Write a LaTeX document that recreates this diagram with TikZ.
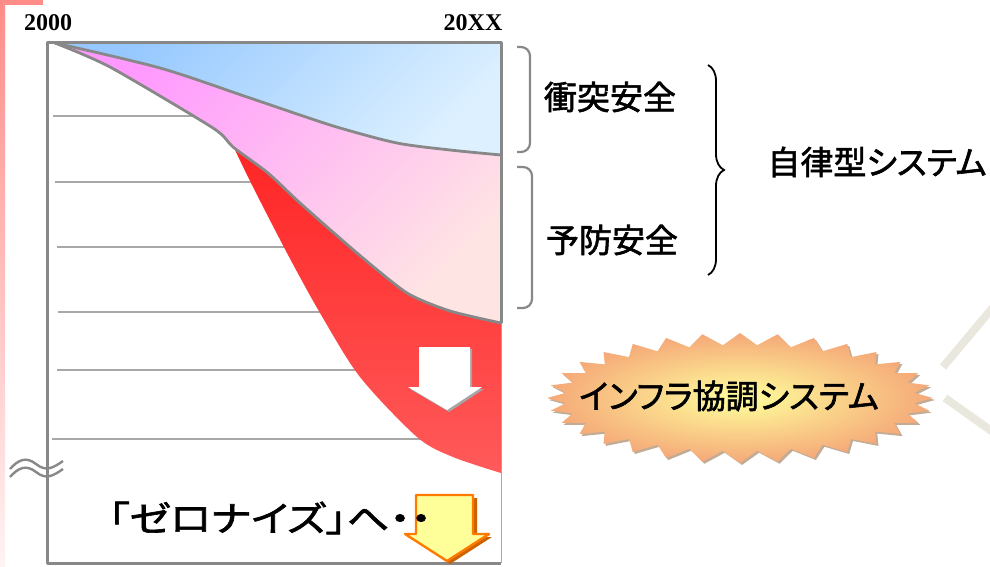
\documentclass[tikz,border=0pt]{standalone}
\usepackage{fontspec}
\setmainfont{Liberation Serif}
\newfontfamily\jpfont[RawFeature=+palt, FakeBold=1.8]{Noto Sans CJK JP}
\newfontfamily\jpwide[RawFeature=+palt, FakeBold=1.8, FakeStretch=1.2]{Noto Sans CJK JP}
\usetikzlibrary{decorations.pathreplacing}

\definecolor{framegray}{HTML}{888888}
\definecolor{gridgray}{HTML}{A8A8A8}
\definecolor{bluetop}{HTML}{96C8FF}
\definecolor{bluebot}{HTML}{DCF0FF}
\definecolor{pinktop}{HTML}{FF99FF}
\definecolor{pinkbot}{HTML}{FFE4E4}
\definecolor{redtop}{HTML}{FF1414}
\definecolor{redbot}{HTML}{FF5A5A}
\definecolor{striptop}{HTML}{FF8C88}
\definecolor{stripbot}{HTML}{FFF4F4}
\definecolor{burstin}{HTML}{FFFF9C}
\definecolor{burstout}{HTML}{F5A878}
\definecolor{decobeige}{HTML}{EAE8DE}
\definecolor{arrowyellow}{HTML}{FFFF99}
\definecolor{arroworange}{HTML}{FF7A00}

\begin{document}
\begin{tikzpicture}[x=1pt, y=-1pt,
    jplabel/.style={font=\jpfont\fontsize{33}{33}\selectfont, inner sep=0pt},
    yearlabel/.style={font=\bfseries\fontsize{24}{24}\selectfont, inner sep=0pt},
    gridline/.style={draw=gridgray, line width=1.2pt},
    edgeline/.style={draw=framegray, line width=2.8pt, line join=round, line cap=round},
    bracket/.style={draw=framegray, line width=2.2pt, rounded corners=9pt},
    breakmark/.style={draw=framegray, line width=2.4pt}
]
    \useasboundingbox (0,0) rectangle (990,567);

    % Side strip
    \shade[top color=striptop, bottom color=stripbot] (0,0) rectangle (5,567);
    \fill[striptop] (0,0) rectangle (43,5);

    % Decoration
    \draw[decobeige, line width=8pt] (943,367) -- (1000,299);
    \draw[decobeige, line width=8pt] (945,398) -- (1000,437);

    % Grid
    \foreach \y/\x in {116/53, 182/55, 247/57, 312/58, 370/57, 439/52}
        \draw[gridline] (\x,\y) -- (501,\y);
    \draw[gridgray, line width=1pt] (501,323) -- (501,563);

    % Areas
    \shade[top color=redtop, bottom color=redbot]
        plot[smooth, tension=0.5] coordinates {(235,150) (253,187) (287,253) (320,313) (360,377) (417,437) (453,457) (501,473)}
        -- (501,43) -- (235,43) -- cycle;
    \shade[top color=pinktop, bottom color=pinkbot, shading angle=45]
        plot[smooth, tension=0.4] coordinates {(55,43) (110,67) (213,128) (233,147) (268,173) (300,203) (357,253) (407,293) (450,311) (501,323)}
        -- (501,43) -- cycle;
    \shade[top color=bluetop, bottom color=bluebot, shading angle=45]
        plot[smooth, tension=0.5] coordinates {(55,43) (160,68) (247,97) (300,115) (340,128) (397,143) (450,150) (501,155)}
        -- (501,43) -- cycle;
    \draw[edgeline] plot[smooth, tension=0.4] coordinates {(55,43) (110,67) (213,128) (233,147) (268,173) (300,203) (357,253) (407,293) (450,311) (501,323)};
    \draw[edgeline] plot[smooth, tension=0.5] coordinates {(55,43) (160,68) (247,97) (300,115) (340,128) (397,143) (450,150) (501,155)};

    % Frame
    \draw[framegray, line width=3pt, line join=round] (501,323) -- (501,43) -- (47,43) -- (47,563) -- (501,563);
    \draw[breakmark] (10,469) .. controls (18,460) and (26,456) .. (36,464) .. controls (46,472) and (53,468) .. (63,461);
    \draw[breakmark] (10,477) .. controls (18,468) and (26,464) .. (36,472) .. controls (46,480) and (53,476) .. (63,469);

    % Arrows
    \fill[gray!70] (421,349) -- (472,349) -- (472,389) -- (484,389) -- (449,412) -- (410,389) -- (421,389) -- cycle;
    \fill[white] (419,347) -- (470,347) -- (470,387) -- (482,387) -- (447,410) -- (408,387) -- (419,387) -- cycle;
    \fill[arroworange!80!black] (420,498) -- (477,498) -- (477,537) -- (492,537) -- (450,564) -- (409,537) -- (420,537) -- cycle;
    \filldraw[fill=arrowyellow, draw=arroworange, line width=2.4pt, line join=round]
        (416,495) -- (473,495) -- (473,534) -- (489,534) -- (447,561) -- (405,534) -- (416,534) -- cycle;

    % Brackets
    \draw[bracket] (517,47) -- (530,47) -- (530,152) -- (517,152);
    \draw[bracket] (517,167) -- (532,167) -- (532,308) -- (517,308);
    \draw[black, line width=1.8pt, decorate, decoration={brace, amplitude=16pt}] (708,65) -- (708,275);

    % Starburst
    \fill[brown!70!black, opacity=0.5] plot[variable=\t, samples at={0,...,63}]
        ({742+(193-18*mod(\t,2))*cos(\t*5.625)}, {400+(65-12*mod(\t,2))*sin(\t*5.625)}) -- cycle;
    \shade[inner color=burstin, outer color=burstout] plot[variable=\t, samples at={0,...,63}]
        ({740+(193-18*mod(\t,2))*cos(\t*5.625)}, {398+(65-12*mod(\t,2))*sin(\t*5.625)}) -- cycle;

    % Nodes
    \node[yearlabel] (start) at (48,23) {2000};
    \node[yearlabel] (end) at (473,23) {20XX};
    \node[jplabel] (collision) at (610,97) {衝突安全};
    \node[jplabel] (prevent) at (612,240) {予防安全};
    \node[jplabel] (autonomous) at (877,162) {自律型システム};
    \node[jplabel] (infra) at (729,396) {インフラ協調システム};
    \node[jplabel, font=\jpwide\fontsize{35}{35}\selectfont] (zero) at (270,518) {「ゼロナイズ」へ・・};
\end{tikzpicture}
\end{document}
